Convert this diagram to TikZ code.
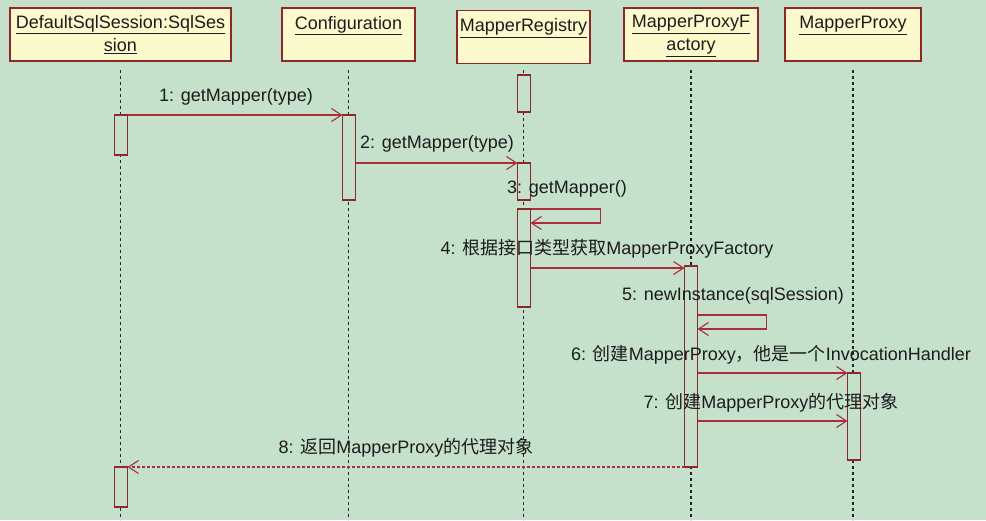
\documentclass[tikz,border=0pt]{standalone}
\usepackage{fontspec}
\setmainfont{Liberation Sans}
\newfontfamily\cjk{Noto Sans CJK SC}
\usetikzlibrary{arrows.meta}
\definecolor{bg}{RGB}{197,225,204}
\definecolor{boxfill}{RGB}{252,249,205}
\definecolor{boxline}{RGB}{140,40,40}
\definecolor{msgline}{RGB}{170,45,60}
\definecolor{txt}{RGB}{28,28,28}
\tikzset{
  x=1pt, y=-1pt,
  hdr/.style={draw=boxline, line width=1.6pt, fill=boxfill, minimum height=53pt, inner sep=0pt, outer sep=0pt},
  hdrtxt/.style={anchor=north, font=\fontsize{18}{23}\selectfont, text=txt, align=center, inner sep=0pt},
  act/.style={draw=boxline, line width=1.3pt, fill=bg, minimum width=13pt, inner sep=0pt, outer sep=0pt},
  life/.style={draw=black!85, line width=1.1pt, dash pattern=on 3pt off 3pt},
  msg/.style={draw=msgline, line width=1.3pt, -{Straight Barb[length=10pt,width=13pt,line width=1.1pt]}},
  ret/.style={msg, dash pattern=on 3pt off 2pt},
  lbl/.style={font=\fontsize{18}{20}\selectfont, text=txt, inner sep=0pt}
}
\begin{document}
\begin{tikzpicture}
\useasboundingbox[fill=bg] (0,0) rectangle (986,520);
% headers
\node[hdr, minimum width=221pt] (dssH) at (120.5,34.5) {};
\node[hdr, minimum width=133pt] (cfgH) at (348.5,34.5) {};
\node[hdr, minimum width=133pt] (mrH) at (523.5,37) {};
\node[hdr, minimum width=134pt] (mpfH) at (691,34.5) {};
\node[hdr, minimum width=136pt] (mpH) at (853,34.5) {};
\node[hdrtxt] at ([yshift=-7pt]dssH.north) {\underline{DefaultSqlSession:SqlSes}\\\underline{sion}};
\node[hdrtxt] at ([yshift=-8pt]cfgH.north) {\underline{Configuration}};
\node[hdrtxt] at ([yshift=-8pt]mrH.north) {\underline{MapperRegistry}};
\node[hdrtxt] at ([yshift=-7pt]mpfH.north) {\underline{MapperProxyF}\\\underline{actory}};
\node[hdrtxt] at ([yshift=-8pt]mpH.north) {\underline{MapperProxy}};
% lifelines
\draw[life] (dssH.south |- 0,70) -- (dssH.south |- 0,520);
\draw[life] (cfgH.south |- 0,70) -- (cfgH.south |- 0,520);
\draw[life] (mrH.south |- 0,70) -- (mrH.south |- 0,520);
\draw[life] (mpfH.south |- 0,70) -- (mpfH.south |- 0,520);
\draw[life] (mpH.south |- 0,70) -- (mpH.south |- 0,520);
% activations
\node[act, minimum height=37pt] (mr0) at (524,93.5) {};
\node[act, minimum height=40pt] (dss1) at (121,135) {};
\node[act, minimum height=85pt] (cfg1) at (349,157.5) {};
\node[act, minimum height=37pt] (mr1) at (524,181.5) {};
\node[act, minimum height=98pt] (mr2) at (524,258) {};
\node[act, minimum height=201pt] (mpf) at (691,366.5) {};
\node[act, minimum height=87pt] (mp) at (854,416.5) {};
\node[act, minimum height=40pt] (dss2) at (121,487) {};
% messages
\draw[msg] (dss1.north east) -- (cfg1.north west);
\node[lbl] (l1) at (236,97) {1: getMapper(type)};
\draw[msg] (cfg1.east |- mr1.north) -- (mr1.north west);
\node[lbl] (l2) at (437,144) {2: getMapper(type)};
\draw[msg] (mr2.north east) -- ++(70,0) -- ++(0,14) -- ++(-70,0);
\node[lbl] (l3) at (567,189) {3: getMapper()};
\coordinate (m4) at ([yshift=-59pt]mr2.north east);
\draw[msg] (m4) -- (mpf.west |- m4);
\node[lbl] (l4) at (607,249) {4: {\cjk 根据接口类型获取}MapperProxyFactory};
\draw[msg] ([yshift=-49pt]mpf.north east) -- ++(69,0) -- ++(0,14) -- ++(-69,0);
\node[lbl] (l5) at (733,296) {5: newInstance(sqlSession)};
\draw[msg] (mpf.east |- mp.north) -- (mp.north west);
\node[lbl] (l6) at (771,355) {6: {\cjk 创建}MapperProxy{\cjk ，他是一个}InvocationHandler};
\coordinate (m7) at ([yshift=-48pt]mp.north west);
\draw[msg] (mpf.east |- m7) -- (m7);
\node[lbl] (l7) at (771,403) {7: {\cjk 创建}MapperProxy{\cjk 的代理对象}};
\draw[ret] (mpf.south west) -- (dss2.north east);
\node[lbl] (l8) at (406,448) {8: {\cjk 返回}MapperProxy{\cjk 的代理对象}};
\end{tikzpicture}
\end{document}
